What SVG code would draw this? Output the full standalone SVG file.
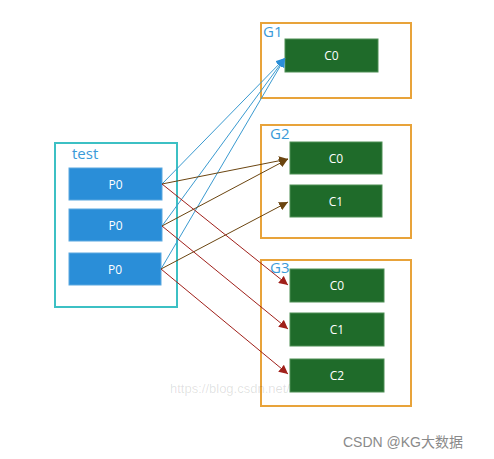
<svg xmlns="http://www.w3.org/2000/svg" width="494" height="459" viewBox="0 0 494 459">
<style>
.grp{fill:#fff;stroke:#e8a33a;stroke-width:2}
.src{fill:#fff;stroke:#3cc0c4;stroke-width:2}
.p{fill:#2a8ed8;stroke:#5aa8e0;stroke-width:1}
.c{fill:#1f6b2a;stroke:#4f8f55;stroke-width:1}
.lbl{font-family:"Open Sans","Liberation Sans",sans-serif;font-size:12px;fill:#fff;text-anchor:middle}
.gl{font-family:"Open Sans","Liberation Sans",sans-serif;font-size:15px;fill:#3a9ad8}
.b{stroke:#3a9ad0;stroke-width:1;fill:none;marker-end:url(#ab)}
.o{stroke:#6b4510;stroke-width:1;fill:none;marker-end:url(#ao)}
.r{stroke:#a0201a;stroke-width:1;fill:none;marker-end:url(#ar)}
</style>
<defs>
<marker id="ab" viewBox="0 0 10 10" refX="10" refY="5" markerWidth="9" markerHeight="9" markerUnits="userSpaceOnUse" orient="auto"><path d="M0,0L10,5L0,10z" fill="#2a8ed8"/></marker>
<marker id="ao" viewBox="0 0 10 10" refX="10" refY="5" markerWidth="9" markerHeight="9" markerUnits="userSpaceOnUse" orient="auto"><path d="M0,0L10,5L0,10z" fill="#6b4510"/></marker>
<marker id="ar" viewBox="0 0 10 10" refX="10" refY="5" markerWidth="9" markerHeight="9" markerUnits="userSpaceOnUse" orient="auto"><path d="M0,0L10,5L0,10z" fill="#a0201a"/></marker>
</defs>
<rect width="494" height="459" fill="#fff"/>
<g id="test">
<rect class="src" x="55" y="143" width="122" height="164"/>
<text class="gl" x="72" y="159">test</text>
</g>
<g id="p0a"><rect class="p" x="69" y="168" width="93" height="32"/><text class="lbl" x="115.5" y="188.5">P0</text></g>
<g id="p0b"><rect class="p" x="69" y="209" width="93" height="32"/><text class="lbl" x="115.5" y="229.5">P0</text></g>
<g id="p0c"><rect class="p" x="69" y="253" width="92" height="32"/><text class="lbl" x="115" y="273.5">P0</text></g>
<g id="G1">
<rect class="grp" x="261" y="23" width="150" height="75"/>
<text class="gl" x="263" y="37">G1</text>
</g>
<g id="g1c0"><rect class="c" x="285" y="39" width="93" height="33"/><text class="lbl" x="331.5" y="60">C0</text></g>
<g id="G2">
<rect class="grp" x="261" y="125" width="150" height="113"/>
<text class="gl" x="270" y="139">G2</text>
</g>
<g id="g2c0"><rect class="c" x="290" y="142" width="92" height="32"/><text class="lbl" x="336" y="162.5">C0</text></g>
<g id="g2c1"><rect class="c" x="290" y="185" width="92" height="32"/><text class="lbl" x="336" y="205.5">C1</text></g>
<g id="G3">
<rect class="grp" x="261" y="260" width="150" height="146"/>
<text class="gl" x="270" y="273">G3</text>
</g>
<g id="g3c0"><rect class="c" x="290" y="269" width="94" height="33"/><text class="lbl" x="337" y="290">C0</text></g>
<g id="g3c1"><rect class="c" x="290" y="313" width="94" height="33"/><text class="lbl" x="337" y="334">C1</text></g>
<g id="g3c2"><rect class="c" x="290" y="359" width="94" height="33"/><text class="lbl" x="337" y="380">C2</text></g>
<g id="connectors">
<line class="b" x1="162" y1="184" x2="285" y2="58"/>
<line class="b" x1="162" y1="226" x2="285" y2="58"/>
<line class="b" x1="161" y1="269" x2="285" y2="58"/>
<line class="o" x1="162" y1="184" x2="288" y2="159"/>
<line class="o" x1="162" y1="226" x2="288" y2="159"/>
<line class="o" x1="161" y1="269" x2="288" y2="202"/>
<line class="r" x1="162" y1="184" x2="288" y2="285"/>
<line class="r" x1="162" y1="226" x2="288" y2="329"/>
<line class="r" x1="161" y1="269" x2="288" y2="374"/>
</g>
<text x="170" y="393" font-family="'Liberation Sans',sans-serif" font-size="13" fill="#000" fill-opacity="0.12">https://blog.csdn.net/</text>
<text x="343" y="447" font-family="'Liberation Sans','Noto Sans CJK SC',sans-serif" font-size="14" fill="#8a8a8a">CSDN @KG大数据</text>
</svg>
